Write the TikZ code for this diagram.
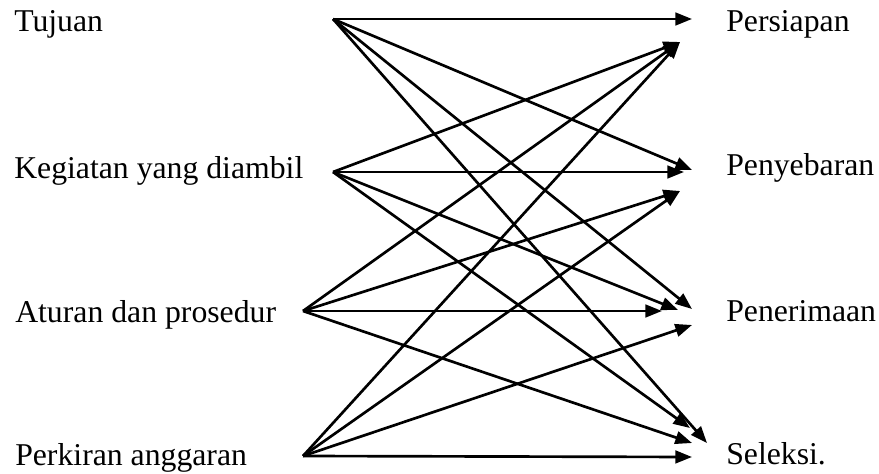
\documentclass[tikz,border=0pt]{standalone}
\usepackage{fontspec}
\setmainfont{Liberation Serif}
\usetikzlibrary{arrows.meta}
\begin{document}
\begin{tikzpicture}[x=0.75pt,y=-0.75pt,
  lbl/.style={anchor=base west,inner sep=0pt,font=\fontsize{23.8pt}{28pt}\selectfont},
  arr/.style={line width=2pt,-{Triangle[length=12.5pt,width=9.5pt]}}]
\useasboundingbox (0,0) rectangle (879,474);
% labels
\node[lbl] (L1) at (14,32) {Tujuan};
\node[lbl] (L2) at (14,179) {Kegiatan yang diambil};
\node[lbl] (L3) at (15,322.5) {Aturan dan prosedur};
\node[lbl] (L4) at (15,465) {Perkiran anggaran};
\node[lbl] (R1) at (726,32) {Persiapan};
\node[lbl] (R2) at (726,176) {Penyebaran};
\node[lbl] (R3) at (726,321.5) {Penerimaan};
\node[lbl] (R4) at (726,464) {Seleksi.};
% sources
\coordinate (s1) at (333,19);
\coordinate (s2) at (333,172);
\coordinate (s3) at (303,311);
\coordinate (s4) at (303,456);
% tips
\coordinate (p1a) at (692,19);
\coordinate (p1b) at (680,42);
\coordinate (p2a) at (692,170);
\coordinate (p2b) at (684,172);
\coordinate (p2c) at (680,191);
\coordinate (p3a) at (692,309);
\coordinate (p3b) at (678,310);
\coordinate (p3c) at (662,311);
\coordinate (p3d) at (692,325);
\coordinate (p4a) at (707,443);
\coordinate (p4b) at (690,428);
\coordinate (p4c) at (692,443);
\coordinate (p4d) at (692,457);
% Tujuan
\draw[arr] (s1) -- (p1a);
\draw[arr] (s1) -- (p2a);
\draw[arr] (s1) -- (p3a);
\draw[arr] (s1) -- (p4a);
% Kegiatan
\draw[arr] (s2) -- (p1b);
\draw[arr] (s2) -- (p2b);
\draw[arr] (s2) -- (p3b);
\draw[arr] (s2) -- (p4b);
% Aturan
\draw[arr] (s3) -- (p1b);
\draw[arr] (s3) -- (p2c);
\draw[arr] (s3) -- (p3c);
\draw[arr] (s3) -- (p4c);
% Perkiran
\draw[arr] (s4) -- (p1b);
\draw[arr] (s4) -- (p2c);
\draw[arr] (s4) -- (p3d);
\draw[arr] (s4) -- (p4d);
\end{tikzpicture}
\end{document}
